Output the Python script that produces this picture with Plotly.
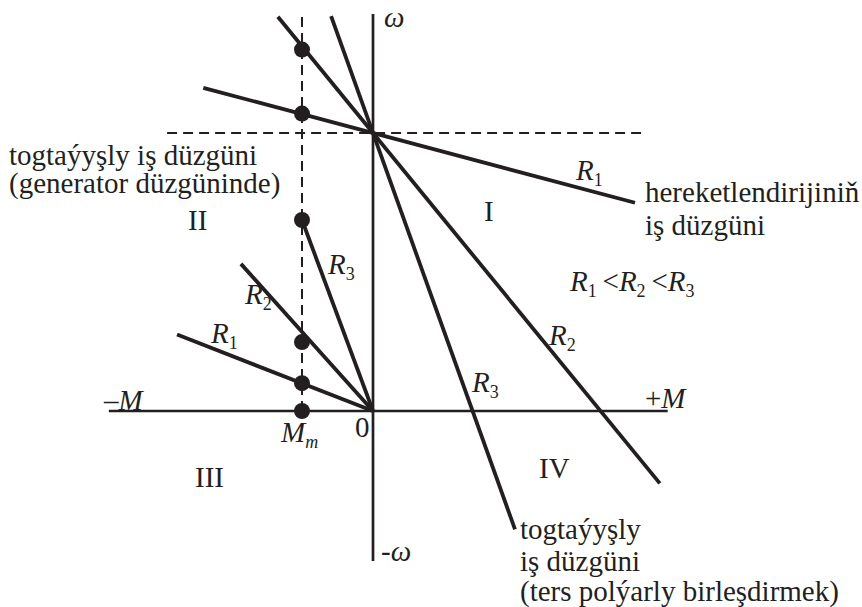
import plotly.graph_objects as go

# Mechanical characteristics omega(M) of a DC motor with armature resistances R1 < R2 < R3
# Units: speed in fractions of ideal no-load speed omega0, torque in fractions of |M_m|
omega0 = 1.0
M_m = -1.0
resistances = ["R1", "R2", "R3"]

# Motor-mode lines through (0, omega0): omega = omega0 - k*M
motor_slope = [0.068, 0.312, 0.713]
motor_M_start = [-2.39, -1.34, -0.59]
motor_M_end = [3.69, 4.04, 2.00]

# Dynamic-braking lines through the origin: omega = -k*M
brake_slope = [0.0996, 0.2845, 0.687]
brake_M_start = [-2.76, -1.86, -1.0]

# Operating points on the M = M_m line
dot_omega = [1.30, 1.07, 0.687, 0.248, 0.10, 0.0]

# Axis extents
M_axis = [-3.72, 4.15]
omega_axis = [-0.54, 1.428]
omega0_guide = [-2.90, 3.79]
Mm_guide_top = 1.417

INK = "#231f20"
FONT = "Times New Roman, Liberation Serif, serif"

# pixel helpers for the 862x607 canvas (origin of axes at pixel 373, 411)
SX, SY, OX, OY = 71.0, 278.0, 373.0, 411.0
def px(x):
    return (x - OX) / SX
def py(y):
    return (OY - y) / SY

fig = go.Figure()

# axes
fig.add_trace(go.Scatter(x=M_axis, y=[0, 0], mode="lines",
                         line=dict(color=INK, width=2.7), hoverinfo="skip"))
fig.add_trace(go.Scatter(x=[0, 0], y=omega_axis, mode="lines",
                         line=dict(color=INK, width=2.7), hoverinfo="skip"))

# dashed guides
fig.add_trace(go.Scatter(x=omega0_guide, y=[omega0, omega0], mode="lines",
                         line=dict(color=INK, width=2, dash="10px,6px"), hoverinfo="skip"))
fig.add_trace(go.Scatter(x=[M_m, M_m], y=[0, Mm_guide_top], mode="lines",
                         line=dict(color=INK, width=2, dash="10px,6px"), hoverinfo="skip"))

# motor characteristics
for k, m0, m1 in zip(motor_slope, motor_M_start, motor_M_end):
    fig.add_trace(go.Scatter(x=[m0, m1], y=[omega0 - k * m0, omega0 - k * m1], mode="lines",
                             line=dict(color=INK, width=3.8), hoverinfo="skip"))

# braking characteristics
for k, m0 in zip(brake_slope, brake_M_start):
    fig.add_trace(go.Scatter(x=[m0, 0], y=[-k * m0, 0], mode="lines",
                             line=dict(color=INK, width=3.8), hoverinfo="skip"))

# operating points
fig.add_trace(go.Scatter(x=[M_m] * len(dot_omega), y=dot_omega, mode="markers",
                         marker=dict(color=INK, size=16, line=dict(width=0)), hoverinfo="skip"))

def label(text, x_px, base_px, size=29, anchor="left", dy=0.0):
    fig.add_annotation(x=px(x_px), y=py(base_px - 0.3375 * size + dy), text=text,
                       showarrow=False, xanchor=anchor, yanchor="middle",
                       font=dict(family=FONT, size=size, color=INK))

def sub(s):
    return f"<sub><span style='font-size:18px'>{s}</span></sub>"

def rname(n):
    return f"<i>R</i>{sub(n)}"

def rlab(n, x_px, base_px):
    label(rname(n), x_px, base_px, dy=3)

label("<i>ω</i>", 382, 27)
label("-<i>ω</i>", 379, 561)
label("–<i>M</i>", 101, 410)
label("+<i>M</i>", 643, 408)
label("0", 362, 437, anchor="center")
label("<i>M</i>" + sub("<i>m</i>"), 278, 441, dy=3)
label("I", 489, 221, anchor="center")
label("II", 197, 230, anchor="center")
label("III", 209, 487, anchor="center")
label("IV", 554, 478, anchor="center")

label("togtaýyşly iş düzgüni", 7, 165)
label("(generator düzgüninde)", 7, 193)
label("hereketlendirijiniň", 643, 202)
label("iş düzgüni", 643, 235)
label("togtaýyşly", 518, 539)
label("iş düzgüni", 518, 571)
label("(ters polýarly birleşdirmek)", 518, 601)

label(rname(1) + "\u2009&lt;" + rname(2) + "\u2009&lt;" + rname(3), 567, 290, dy=3)
rlab(1, 573, 179)
rlab(1, 208, 342)
rlab(2, 242, 303)
rlab(3, 325, 273)
rlab(2, 546, 344)
rlab(3, 469, 391)

fig.update_layout(
    width=862, height=607,
    margin=dict(l=0, r=0, t=0, b=0),
    paper_bgcolor="white", plot_bgcolor="white",
    showlegend=False,
    xaxis=dict(visible=False, range=[px(0), px(862)], fixedrange=True),
    yaxis=dict(visible=False, range=[py(607), py(0)], fixedrange=True),
)

fig.write_html("out.html")
